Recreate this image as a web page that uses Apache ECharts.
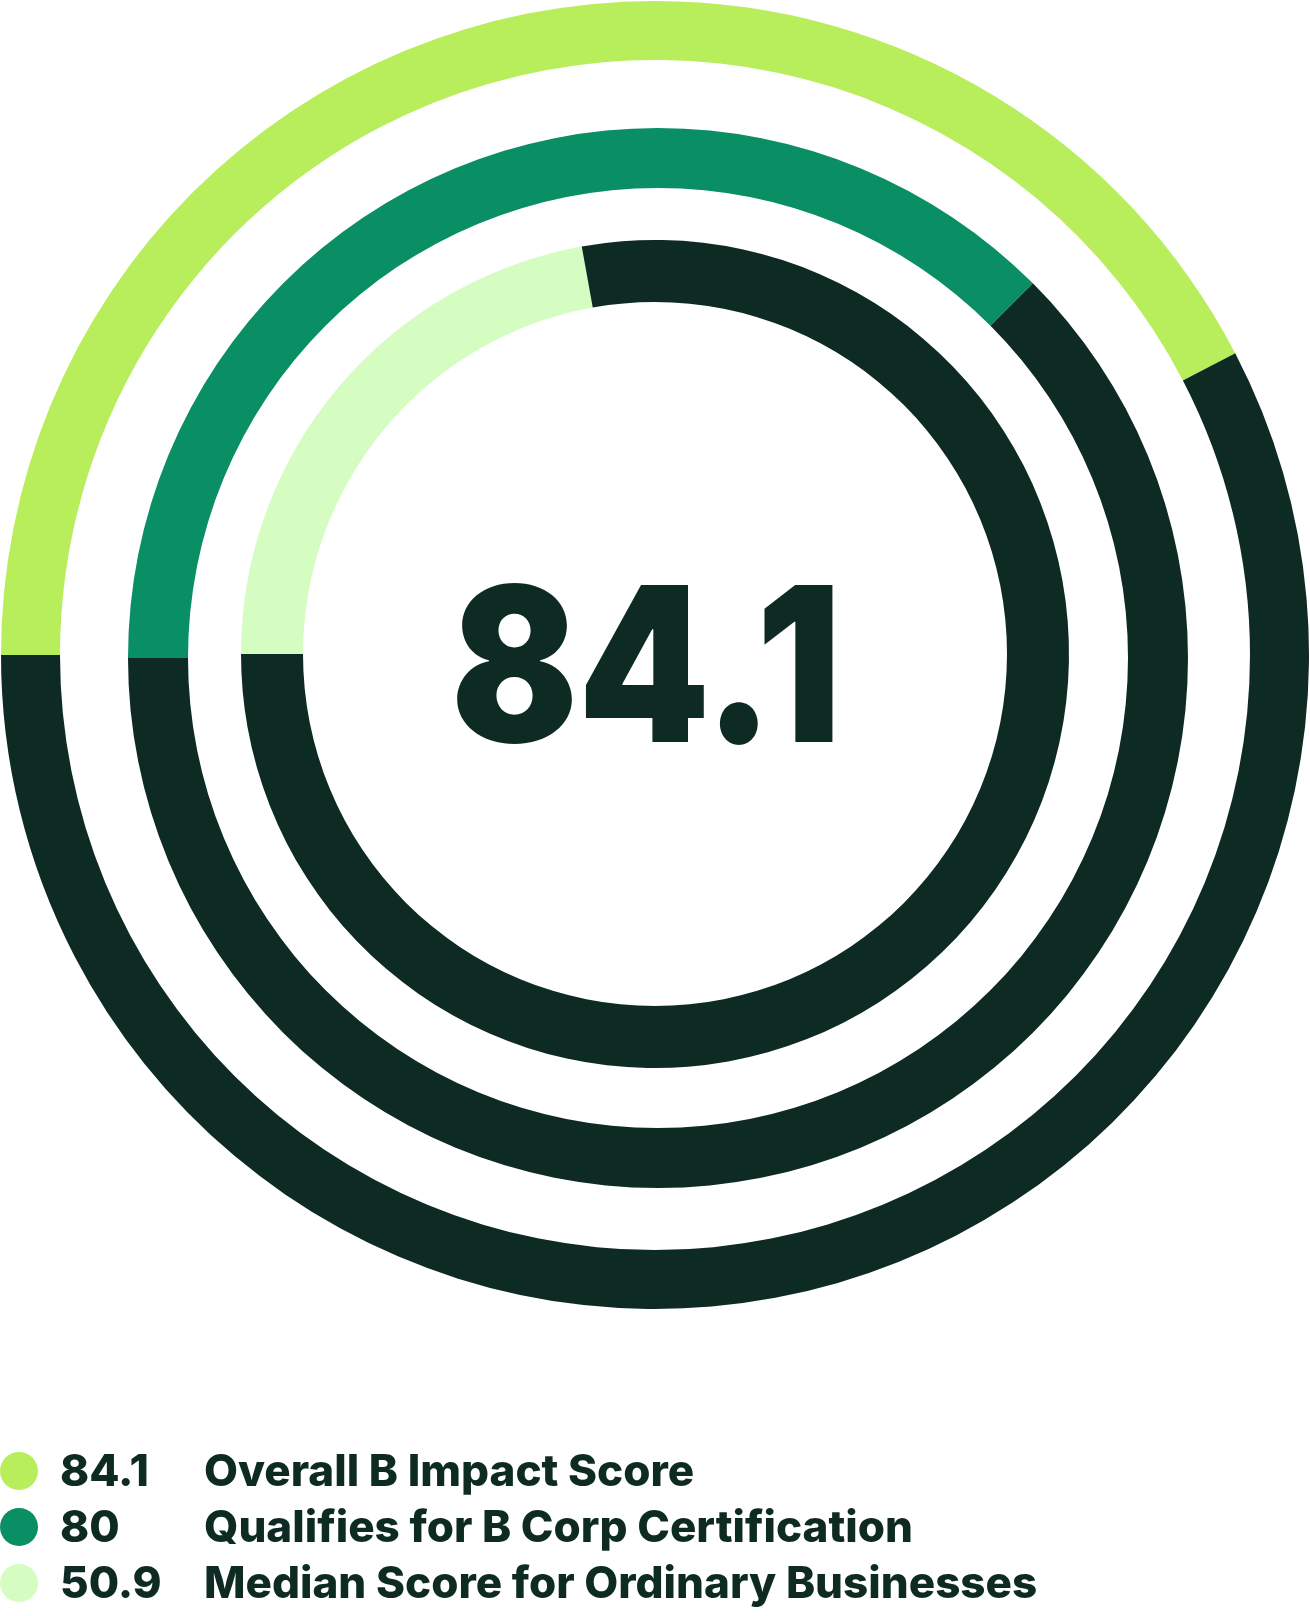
<!DOCTYPE html>
<html>
<head>
<meta charset="utf-8">
<script src="https://cdn.jsdelivr.net/npm/echarts@6/dist/echarts.min.js"></script>
<style>
  html, body { margin: 0; padding: 0; background: #ffffff; }
  #chart { width: 1310px; height: 1616px; }
</style>
</head>
<body>
<div id="chart"></div>
<script>
// ---- data ----
const ringNames = ['Overall B Impact Score', 'Qualifies for B Corp Certification', 'Median Score for Ordinary Businesses'];
const ringValues = [84.1, 80, 50.9];
// dark remainder segment of each ring (estimated from the arc lengths in the picture)
const ringRemainders = [114.4, 133.3, 178.7];
const centerLabel = '84.1';

// ---- styling ----
const ringColors = ['#b8ee5c', '#0a8e63', '#d5fcc1'];
const darkColor = '#0e2b23';
const ringCenters = [[655, 655], [658, 658], [655, 654]];
const ringRadii = [[595, 654], [470, 530], [352, 414]];
const FONT = 'Inter';

const chart = echarts.init(document.getElementById('chart'), null, { renderer: 'canvas' });

const series = ringValues.map((v, i) => ({
  type: 'pie',
  center: ringCenters[i],
  radius: ringRadii[i],
  startAngle: 180,
  clockwise: true,
  silent: true,
  avoidLabelOverlap: false,
  label: { show: false },
  labelLine: { show: false },
  emphasis: { disabled: true },
  itemStyle: { borderWidth: 0 },
  data: [
    { name: ringNames[i], value: v, itemStyle: { color: ringColors[i] } },
    { name: 'rest-' + i, value: ringRemainders[i], itemStyle: { color: darkColor } }
  ]
}));

// legend drawn as graphics (key circle, value, name)
const legendRowY = [1473, 1529, 1585];
const legendGraphics = [];
ringNames.forEach((name, i) => {
  const y = legendRowY[i];
  legendGraphics.push({
    type: 'circle', silent: true,
    shape: { cx: 19, cy: y - 2, r: 19 },
    style: { fill: ringColors[i] }
  });
  legendGraphics.push({
    type: 'text', silent: true, x: 60, y: y,
    style: { text: String(ringValues[i]), align: 'left', verticalAlign: 'middle',
             fontFamily: FONT, fontWeight: 800, fontSize: 44, fill: darkColor }
  });
  legendGraphics.push({
    type: 'text', silent: true, x: 204, y: y,
    style: { text: name, align: 'left', verticalAlign: 'middle',
             fontFamily: FONT, fontWeight: 800, fontSize: 44, fill: darkColor }
  });
});

chart.setOption({
  animation: false,
  backgroundColor: '#ffffff',
  graphic: [{
    type: 'text',
    x: 646,
    y: 677,
    scaleX: 0.87,
    silent: true,
    style: {
      text: centerLabel,
      x: 0, y: 0,
      align: 'center',
      verticalAlign: 'middle',
      fontFamily: FONT,
      fontWeight: 900,
      fontSize: 216,
      fill: darkColor
    }
  }].concat(legendGraphics),
  series: series
});
</script>
</body>
</html>
